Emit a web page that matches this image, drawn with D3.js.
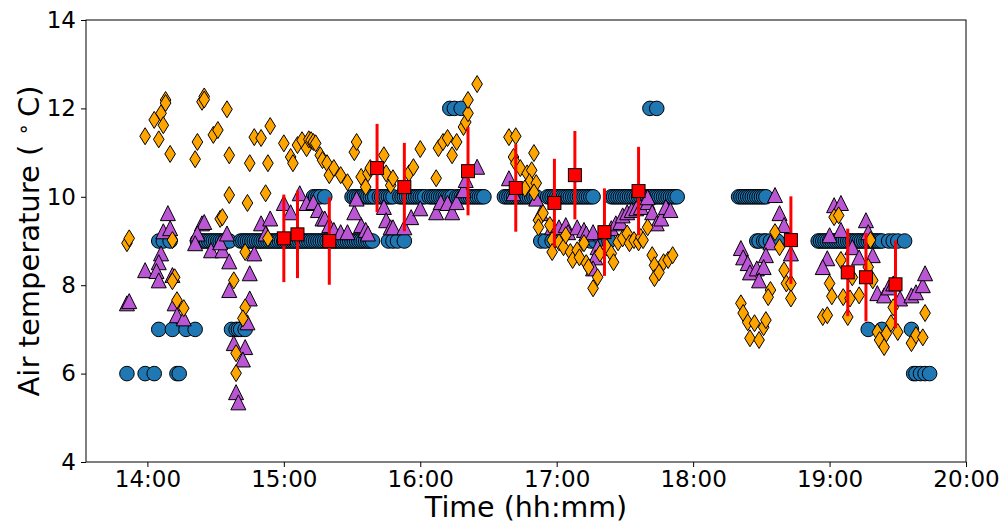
<!DOCTYPE html>
<html><head><meta charset="utf-8">
<script src="https://cdn.jsdelivr.net/npm/d3@7"></script>
<style>body{margin:0;background:#fff}svg{display:block}</style>
</head><body>
<svg id="chart" width="1005" height="524"></svg>
<script>
// ---------------- data ----------------
const xTickLabels = ["14:00","15:00","16:00","17:00","18:00","19:00","20:00"];
const yTickValues = [4,6,8,10,12,14];
const xDomain = ["13:33","20:00"];
const yDomain = [4,14];

// blue circles (sensor reporting whole degrees), times per level
const blueAt6 = "13:51 13:59 14:03 14:13 14:14 19:37 19:38 19:40 19:42 19:44".split(" ");
const blueAt7 = "14:05 14:11 14:17 14:21 14:37 14:39 14:40 14:41 14:43 19:17 19:23 19:36".split(" ");
const blueAt9 = ("14:05 14:07 14:10 14:22 14:23 14:24 14:25 14:26 14:27 14:28 14:29 14:30 14:31 14:32 14:33 14:34 14:35 14:36 " +
  "14:41 14:42 14:43 14:44 14:45 14:46 14:47 14:48 14:49 14:50 14:51 14:52 14:53 14:54 14:55 14:56 14:57 14:58 14:59 " +
  "15:00 15:01 15:02 15:03 15:04 15:05 15:06 15:07 15:08 15:09 15:10 15:11 15:12 15:13 15:14 15:15 15:16 15:17 15:18 15:19 " +
  "15:20 15:21 15:22 15:23 15:24 15:25 15:26 15:27 15:28 15:29 15:30 15:31 15:32 15:33 15:34 15:35 15:36 15:37 15:38 15:39 " +
  "15:46 15:48 15:50 15:53 16:53 16:55 16:58 17:15 17:17 17:20 17:23 " +
  "18:28 18:29 18:31 18:32 18:34 18:36 18:37 " +
  "18:55 18:56 18:57 18:58 18:59 19:00 19:01 19:02 19:03 19:04 19:05 19:06 19:07 19:08 19:09 19:10 19:11 19:12 19:13 19:14 " +
  "19:15 19:16 19:17 19:18 19:19 19:20 19:21 19:22 19:23 19:26 19:28 19:30 19:33").split(" ");
const blueAt10 = ("15:13 15:14 15:15 15:16 15:18 " +
  "15:30 15:31 15:32 15:33 15:34 15:35 15:36 15:37 15:38 15:39 15:40 15:42 15:43 15:44 15:45 15:46 15:47 15:48 " +
  "15:51 15:52 15:53 15:54 15:55 15:56 15:57 15:58 15:59 16:00 16:01 16:02 " +
  "16:04 16:05 16:06 16:07 16:08 16:09 16:10 16:11 16:12 16:13 16:14 " +
  "16:16 16:17 16:18 16:19 16:20 16:21 16:22 16:23 16:24 16:25 16:26 16:27 16:28 " +
  "16:37 16:38 16:39 16:40 16:41 16:42 16:43 16:44 16:45 16:46 16:47 16:48 16:49 16:50 16:51 " +
  "16:56 16:57 16:58 16:59 17:00 17:01 17:02 17:03 17:04 17:05 17:06 17:07 17:08 17:09 17:10 17:11 17:12 17:13 17:14 17:15 17:16 " +
  "17:24 17:25 17:26 17:27 17:28 17:29 17:30 17:31 17:32 17:33 17:34 17:35 17:36 17:37 17:38 17:39 17:40 17:41 17:42 17:43 " +
  "17:44 17:45 17:46 17:47 17:48 17:49 17:50 17:51 17:52 17:53 " +
  "18:20 18:21 18:22 18:23 18:24 18:25 18:26 18:27 18:28 18:29 18:30 18:31 18:32").split(" ");
const blueAt12 = "16:13 16:15 16:18 17:41 17:44".split(" ");

// purple triangles [time, temperature]
const purplePoints = [
 ["13:51",7.59],["13:52",7.64],["14:09",9.63],["14:07",9.22],["14:10",9.29],["14:06",8.72],["14:05",8.52],
 ["13:59",8.34],["14:04",8.32],["14:05",8.11],["14:11",8.23],["14:12",7.59],["14:13",7.32],["14:16",7.25],
 ["14:24",9.40],["14:25",9.43],["14:22",9.17],["14:21",8.95],["14:28",8.79],["14:33",8.79],["14:32",8.97],
 ["14:35",9.17],["14:36",8.54],["14:45",8.27],["14:50",9.40],["14:54",9.51],["14:52",9.17],["14:47",8.72],
 ["14:36",7.89],["14:45",7.70],["14:44",7.16],["14:38",6.69],["14:43",6.60],["14:42",6.32],["14:39",5.58],["14:40",5.35],
 ["15:00",9.86],["15:03",9.65],["15:07",10.08],["15:10",9.86],["15:13",9.88],["15:15",9.70],["15:17",9.51],
 ["15:18",9.51],["15:20",9.36],["15:22",9.25],["15:25",9.20],["15:28",9.20],["15:34",9.36],["15:36",9.25],
 ["15:37",9.17],["15:31",9.65],["15:32",9.96],["15:44",9.77],["15:45",9.47],["15:47",9.31],["15:48",9.31],
 ["15:53",9.31],["15:56",9.54],["16:00",9.74],["16:07",9.65],["16:09",9.88],["16:12",9.86],["16:14",9.65],
 ["16:16",9.88],["16:19",10.15],["16:20",10.38],["16:25",10.68],["16:39",10.42],["16:41",10.08],["16:51",9.96],
 ["16:53",9.63],["16:58",9.31],["17:01",9.31],["17:04",9.36],["17:05",9.20],["17:09",9.31],["17:12",9.25],
 ["17:13",9.17],["17:16",9.20],["17:18",8.86],["17:17",8.63],["17:16",8.38],["17:24",9.29],["17:26",9.40],
 ["17:28",9.43],["17:29",9.58],["17:31",9.65],["17:33",9.70],["17:35",9.74],["17:37",9.77],["17:40",9.88],
 ["17:40",9.99],["17:42",9.65],["17:44",9.40],["17:46",9.51],["17:48",9.77],["17:50",9.70],
 ["18:36",10.04],["18:38",9.63],["18:40",9.36],["18:34",8.97],["18:32",8.68],["18:21",8.84],["18:22",8.63],
 ["18:24",8.50],["18:25",8.29],["18:28",8.38],["18:31",8.41],["18:29",8.11],["18:43",8.72],
 ["19:02",9.81],["19:05",9.86],["19:05",9.25],["19:00",9.13],["18:59",8.61],["18:57",8.41],["19:10",8.86],
 ["19:13",8.63],["19:16",9.47],["19:17",9.20],["19:19",8.68],["19:21",7.82],["19:24",7.77],["19:26",7.95],
 ["19:28",8.04],["19:31",7.70],["19:36",7.77],["19:38",7.84],["19:41",8.00],["19:42",8.27]
];

// orange thin diamonds [time, temperature]
const orangePoints = [
 ["13:51",8.95],["13:52",9.06],["14:08",12.19],["14:08",12.12],["14:06",11.89],["14:03",11.74],["14:07",11.62],
 ["13:59",11.37],["14:05",11.30],["14:10",10.97],["14:11",9.02],["14:12",8.18],["14:11",8.09],["14:13",7.66],
 ["14:16",7.48],["14:24",12.15],["14:25",12.27],["14:25",12.20],["14:35",11.98],["14:22",11.24],["14:21",10.85],
 ["14:29",11.40],["14:31",11.51],["14:36",10.94],["14:47",11.35],["14:50",11.33],["14:54",11.60],["14:45",10.76],
 ["14:53",10.76],["15:00",11.21],["14:36",10.04],["14:44",9.86],["14:52",10.08],["14:32",9.50],["14:33",9.54],
 ["14:53",9.06],["14:43",8.75],["14:38",8.11],["14:43",7.50],["14:42",7.25],["14:39",6.46],["14:39",6.01],
 ["15:03",10.90],["15:04",10.76],["15:06",11.17],["15:08",11.28],["15:10",11.10],["15:11",11.30],["15:12",11.28],
 ["15:13",11.24],["15:14",11.21],["15:16",10.94],["15:17",10.83],["15:19",10.76],["15:20",10.49],["15:22",10.65],
 ["15:25",10.49],["15:28",10.33],["15:31",11.01],["15:32",11.24],["15:34",10.45],["15:36",10.22],["15:37",10.53],
 ["15:38",10.65],["15:44",10.94],["15:45",10.53],["15:47",10.26],["15:48",10.42],["15:55",10.53],["15:57",10.67],
 ["16:00",11.08],["16:07",10.42],["16:08",11.10],["16:10",11.24],["16:12",11.33],["16:14",10.94],["16:16",11.24],
 ["16:19",11.58],["16:20",11.69],["16:21",11.89],["16:21",12.19],["16:25",12.55],
 ["16:39",11.35],["16:42",11.37],["16:41",10.90],["16:42",10.76],["16:44",10.65],["16:47",10.53],["16:49",10.60],
 ["16:50",10.99],["16:48",10.33],["16:51",10.31],["16:50",10.10],["16:46",10.19],["16:52",9.47],["16:54",9.63],
 ["16:52",9.31],["16:57",9.36],["16:58",9.02],["16:58",8.75],["17:01",8.97],["17:03",8.86],["17:04",9.13],
 ["17:06",8.75],["17:07",8.57],["17:09",8.79],["17:10",8.63],["17:12",8.95],["17:13",8.50],["17:14",8.41],
 ["17:18",8.18],["17:16",7.93],["17:19",8.72],["17:22",8.86],["17:24",8.72],["17:25",8.52],["17:27",8.97],
 ["17:29",9.06],["17:31",9.17],["17:32",8.95],["17:34",9.02],["17:36",8.97],["17:37",9.09],["17:40",9.31],
 ["17:38",9.02],["17:42",8.68],["17:43",8.45],["17:43",8.16],["17:45",8.29],["17:47",8.52],["17:49",8.57],["17:51",8.68],
 ["18:36",9.20],["18:38",8.86],["18:40",8.34],["18:41",8.04],["18:43",8.04],["18:34",7.89],["18:33",7.73],
 ["18:43",7.70],["18:21",7.59],["18:22",7.37],["18:24",7.16],["18:25",6.80],["18:27",7.14],["18:29",6.76],
 ["18:31",7.05],["18:32",7.21],
 ["19:02",9.54],["19:04",9.58],["19:05",8.57],["19:00",8.04],["19:01",7.75],["18:57",7.28],["18:59",7.32],
 ["19:06",7.73],["19:09",7.70],["19:08",7.28],["19:10",8.18],["19:13",7.77],["19:18",9.02],["19:17",8.41],
 ["19:19",8.11],["19:28",7.50],["19:27",7.14],["19:21",6.94],["19:22",6.76],["19:24",6.60],["19:25",6.91],
 ["19:30",6.94],["19:36",6.69],["19:38",6.87],["19:41",6.82],["19:42",7.37]
];

// red squares: mean with error bars
const meanTimes = ["15:00","15:06","15:20","15:41","15:53","16:21","16:42","16:59","17:08","17:21","17:36","18:43","19:08","19:16","19:29"];
const meanTemps = [9.06,9.15,9.00,10.65,10.22,10.58,10.20,9.86,10.49,9.20,10.13,9.02,8.29,8.18,8.02];
const meanErrs  = [0.99,0.99,0.99,1.00,1.00,1.00,0.99,1.00,1.00,0.99,1.00,0.99,0.99,1.00,0.99];

// ---------------- drawing ----------------
const parseT = d3.timeParse("%H:%M");
const svg = d3.select("#chart");
const m = {left:86, right:966, top:20, bottom:462};
const FONT = "'DejaVu Sans', sans-serif";

const x = d3.scaleTime().domain(xDomain.map(parseT)).range([m.left, m.right]);
const y = d3.scaleLinear().domain(yDomain).range([m.bottom, m.top]);

const plot = svg.append("g");

// blue circles
const blueLevels = [[6,blueAt6],[7,blueAt7],[9,blueAt9],[10,blueAt10],[12,blueAt12]];
const bluePts = [];
blueLevels.forEach(([v, arr]) => arr.forEach(t => bluePts.push([t, v])));
plot.append("g").selectAll("circle").data(bluePts).join("circle")
  .attr("cx", d => x(parseT(d[0]))).attr("cy", d => y(d[1])).attr("r", 7.3)
  .attr("fill", "#1f77b4").attr("stroke", "#000").attr("stroke-width", 1);

// purple triangles
const tri = "M0,-7.5L7.5,7.5L-7.5,7.5Z";
plot.append("g").selectAll("path").data(purplePoints).join("path")
  .attr("d", tri)
  .attr("transform", d => `translate(${x(parseT(d[0]))},${y(d[1])})`)
  .attr("fill", "#BA55D3").attr("stroke", "#000").attr("stroke-width", 1);

// orange thin diamonds
const dia = "M0,-8.5L5.3,0L0,8.5L-5.3,0Z";
plot.append("g").selectAll("path").data(orangePoints).join("path")
  .attr("d", dia)
  .attr("transform", d => `translate(${x(parseT(d[0]))},${y(d[1])})`)
  .attr("fill", "#FFA500").attr("stroke", "#000").attr("stroke-width", 1);

// error bars + squares
const means = meanTimes.map((t,i) => ({t: parseT(t), v: meanTemps[i], e: meanErrs[i]}));
const eg = plot.append("g");
eg.selectAll("line").data(means).join("line")
  .attr("x1", d => x(d.t)).attr("x2", d => x(d.t))
  .attr("y1", d => y(d.v - d.e)).attr("y2", d => y(d.v + d.e))
  .attr("stroke", "#ff0000").attr("stroke-width", 3);
eg.selectAll("rect").data(means).join("rect")
  .attr("x", d => x(d.t) - 6.5).attr("y", d => y(d.v) - 6.5)
  .attr("width", 13).attr("height", 13)
  .attr("fill", "#ff0000").attr("stroke", "#000").attr("stroke-width", 1);

// axes
const xAxis = d3.axisBottom(x).tickValues(xTickLabels.map(parseT))
  .tickFormat(d3.timeFormat("%H:%M")).tickSize(5).tickPadding(4);
const yAxis = d3.axisLeft(y).tickValues(yTickValues).tickSize(5).tickPadding(5);

const gx = svg.append("g").attr("transform", `translate(0,${m.bottom})`).call(xAxis);
const gy = svg.append("g").attr("transform", `translate(${m.left},0)`).call(yAxis);
[gx, gy].forEach(g => {
  g.select(".domain").remove();
  g.selectAll("line").attr("stroke", "#000").attr("stroke-width", 1);
  g.selectAll("text").attr("font-family", FONT).attr("font-size", 23).attr("fill", "#000");
});

// frame
svg.append("rect").attr("x", m.left).attr("y", m.top)
  .attr("width", m.right - m.left).attr("height", m.bottom - m.top)
  .attr("fill", "none").attr("stroke", "#000").attr("stroke-width", 1);

// axis labels
svg.append("text").attr("x", (m.left + m.right) / 2).attr("y", 517)
  .attr("text-anchor", "middle").attr("font-family", FONT).attr("font-size", 28.5)
  .text("Time (hh:mm)");

const yl = svg.append("text")
  .attr("transform", `translate(39,${(m.top + m.bottom) / 2}) rotate(-90)`)
  .attr("text-anchor", "middle").attr("font-family", FONT).attr("font-size", 29);
yl.append("tspan").text("Air temperature ( ");
yl.append("tspan").attr("font-size", 20).attr("dy", -9).text("\u2218");
yl.append("tspan").attr("dy", 9).text("\u2009C)");
</script>
</body></html>
